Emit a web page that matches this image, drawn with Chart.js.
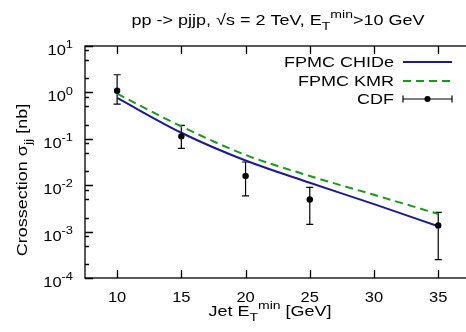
<!DOCTYPE html>
<html>
<head>
<meta charset="utf-8">
<script src="https://cdn.jsdelivr.net/npm/chart.js@4.4.1/dist/chart.umd.min.js"></script>
<style>
  body { margin: 0; background: #fff; }
  #wrap { width: 466px; height: 332px; }
</style>
</head>
<body>
<div id="wrap"><canvas id="c" width="466" height="332"></canvas></div>
<script>
// data
const xValues = [10, 15, 20, 25, 30, 35];
const chideValues = [0.76, 0.135, 0.034, 0.0113, 0.0039, 0.0013];
const kmrValues = [0.94, 0.185, 0.045, 0.0158, 0.0062, 0.0024];

const cdfX = [10, 15, 20, 25, 35];
const cdfValues = [1.09, 0.113, 0.0158, 0.0049, 0.00136];
const cdfLow = [0.56, 0.062, 0.0059, 0.00143, 0.00025];
const cdfHigh = [2.4, 0.195, 0.0316, 0.009, 0.0026];

const xTicks = [10, 15, 20, 25, 30, 35];
const yExponents = [1, 0, -1, -2, -3, -4];
const yMinorMult = [2, 5, 8];

const FONT = 'Liberation Sans, Arial, sans-serif';
const FS = 15;
const SX = 1.2; // text looks horizontally stretched in the reference

// draw text with sub/superscript segments
function segWidth(ctx, segs, size, sx) {
  let w = 0;
  segs.forEach(s => {
    const fs = (s.sub || s.sup) ? size * 0.78 : size;
    ctx.font = fs + 'px ' + FONT;
    w += ctx.measureText(s.t).width * sx;
  });
  return w;
}
function drawRich(ctx, segs, x, y, size, align, sx) {
  sx = sx || SX;
  const w = segWidth(ctx, segs, size, sx);
  let cx = align === 'right' ? x - w : align === 'center' ? x - w / 2 : x;
  ctx.textAlign = 'left';
  ctx.textBaseline = 'alphabetic';
  segs.forEach(s => {
    const fs = (s.sub || s.sup) ? size * 0.78 : size;
    ctx.font = fs + 'px ' + FONT;
    const dy = s.sub ? size * 0.3 : s.sup ? -size * 0.45 : 0;
    ctx.save();
    ctx.translate(cx, y + dy);
    ctx.scale(sx, 1);
    ctx.fillText(s.t, 0, 0);
    ctx.restore();
    cx += ctx.measureText(s.t).width * sx;
  });
}

const axesPlugin = {
  id: 'axesPlugin',
  beforeDatasetsDraw(chart) {
    const ctx = chart.ctx;
    const xs = chart.scales.x, ys = chart.scales.y;
    ctx.save();
    ctx.strokeStyle = '#000';
    ctx.lineWidth = 1.2;
    cdfX.forEach((xv, i) => {
      const px = xs.getPixelForValue(xv);
      const lo = ys.getPixelForValue(cdfLow[i]);
      const hi = ys.getPixelForValue(cdfHigh[i]);
      ctx.beginPath();
      ctx.moveTo(px, lo); ctx.lineTo(px, hi);
      ctx.moveTo(px - 3.5, lo); ctx.lineTo(px + 3.5, lo);
      ctx.moveTo(px - 3.5, hi); ctx.lineTo(px + 3.5, hi);
      ctx.stroke();
    });
    ctx.restore();
  },
  afterDraw(chart) {
    const ctx = chart.ctx;
    const a = chart.chartArea;
    const xs = chart.scales.x, ys = chart.scales.y;
    ctx.save();
    ctx.strokeStyle = '#000';
    ctx.fillStyle = '#000';
    ctx.lineWidth = 1.3;
    ctx.strokeRect(a.left, a.top, a.right - a.left + 20, a.bottom - a.top);

    // x ticks (bottom and top, inward)
    ctx.beginPath();
    xTicks.forEach(v => {
      const px = Math.round(xs.getPixelForValue(v)) + 0.5;
      ctx.moveTo(px, a.bottom); ctx.lineTo(px, a.bottom - 8);
      ctx.moveTo(px, a.top); ctx.lineTo(px, a.top + 8);
    });
    // y ticks
    yExponents.forEach(e => {
      const py = Math.round(ys.getPixelForValue(Math.pow(10, e))) + 0.5;
      ctx.moveTo(a.left, py); ctx.lineTo(a.left + 8, py);
      if (e > -4) {
        yMinorMult.forEach(m => {
          const my = Math.round(ys.getPixelForValue(m * Math.pow(10, e - 1))) + 0.5;
          ctx.moveTo(a.left, my); ctx.lineTo(a.left + 4, my);
        });
      }
    });
    ctx.stroke();

    // tick labels
    xTicks.forEach(v => {
      drawRich(ctx, [{ t: String(v) }], xs.getPixelForValue(v), 302, FS, 'center', 1.1);
    });
    yExponents.forEach(e => {
      const py = ys.getPixelForValue(Math.pow(10, e));
      drawRich(ctx, [{ t: '10' }, { t: String(e), sup: true }], 73, py + 9, FS, 'right', 1.1);
    });

    // title and axis labels
    drawRich(ctx, [{ t: 'pp -> pjjp, \u221As = 2 TeV, E' }, { t: 'T', sub: true }, { t: 'min', sup: true }, { t: '>10 GeV' }], 278, 25, FS, 'center');
    drawRich(ctx, [{ t: 'Jet E' }, { t: 'T', sub: true }, { t: 'min', sup: true }, { t: ' [GeV]' }], 270, 316, FS, 'center');
    ctx.save();
    ctx.translate(27, 180);
    ctx.rotate(-Math.PI / 2);
    drawRich(ctx, [{ t: 'Crossection \u03C3' }, { t: 'jj', sub: true }, { t: ' [nb]' }], 0, 0, FS, 'center');
    ctx.restore();

    // legend
    const rows = [62, 81, 99];
    drawRich(ctx, [{ t: 'FPMC CHIDe' }], 394, rows[0] + 5, FS, 'right');
    drawRich(ctx, [{ t: 'FPMC KMR' }], 394, rows[1] + 5, FS, 'right');
    drawRich(ctx, [{ t: 'CDF' }], 394, rows[2] + 5, FS, 'right');
    ctx.lineWidth = 2;
    ctx.strokeStyle = '#1b1b95';
    ctx.beginPath(); ctx.moveTo(403, rows[0]); ctx.lineTo(452, rows[0]); ctx.stroke();
    ctx.strokeStyle = '#1a9a1a';
    ctx.setLineDash([8, 5]);
    ctx.beginPath(); ctx.moveTo(403, rows[1]); ctx.lineTo(452, rows[1]); ctx.stroke();
    ctx.setLineDash([]);
    ctx.strokeStyle = '#000';
    ctx.lineWidth = 1.2;
    ctx.beginPath();
    ctx.moveTo(403, rows[2]); ctx.lineTo(452, rows[2]);
    ctx.moveTo(403, rows[2] - 3.5); ctx.lineTo(403, rows[2] + 3.5);
    ctx.moveTo(452, rows[2] - 3.5); ctx.lineTo(452, rows[2] + 3.5);
    ctx.stroke();
    ctx.beginPath(); ctx.arc(427.5, rows[2], 3, 0, Math.PI * 2); ctx.fill();
    ctx.restore();
  }
};

new Chart(document.getElementById('c'), {
  type: 'line',
  data: {
    datasets: [
      {
        label: 'CDF',
        data: cdfX.map((x, i) => ({ x: x, y: cdfValues[i] })),
        showLine: false,
        pointRadius: 3.2,
        pointBackgroundColor: '#000',
        pointBorderColor: '#000',
        pointBorderWidth: 0
      },
      {
        label: 'FPMC CHIDe',
        data: xValues.map((x, i) => ({ x: x, y: chideValues[i] })),
        borderColor: '#1b1b95',
        borderWidth: 2,
        pointRadius: 0,
        cubicInterpolationMode: 'monotone'
      },
      {
        label: 'FPMC KMR',
        data: xValues.map((x, i) => ({ x: x, y: kmrValues[i] })),
        borderColor: '#1a9a1a',
        borderWidth: 2,
        borderDash: [8, 5],
        pointRadius: 0,
        cubicInterpolationMode: 'monotone'
      }
    ]
  },
  options: {
    responsive: false,
    animation: false,
    devicePixelRatio: 1,
    layout: { padding: { left: 85, top: 46, right: 0, bottom: 54 } },
    plugins: { legend: { display: false }, tooltip: { enabled: false } },
    scales: {
      x: { type: 'linear', min: 7.5, max: 36.85, display: false },
      y: { type: 'logarithmic', min: 1e-4, max: 10, display: false }
    }
  },
  plugins: [axesPlugin]
});
</script>
</body>
</html>
